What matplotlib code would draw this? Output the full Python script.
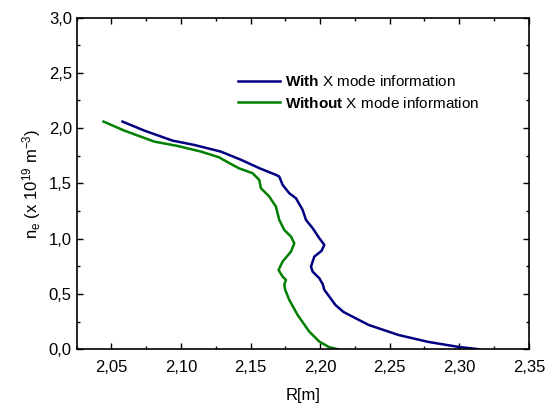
import numpy as np
import matplotlib
matplotlib.use('Agg')
import matplotlib.pyplot as plt
from matplotlib.ticker import MultipleLocator, FuncFormatter

plt.rcParams['font.family'] = ['Liberation Sans', 'DejaVu Sans']
plt.rcParams['mathtext.fontset'] = 'custom'
plt.rcParams['mathtext.rm'] = 'Liberation Sans'
plt.rcParams['mathtext.it'] = 'Liberation Sans:italic'
plt.rcParams['mathtext.bf'] = 'Liberation Sans:bold'

# "With X mode information" profile
r_with = [2.0579, 2.0735, 2.0938, 2.1094, 2.1285, 2.1432, 2.1562, 2.1682, 2.1706,
          2.1730, 2.1778, 2.1826, 2.1874, 2.1898, 2.1946, 2.1994, 2.2030, 2.2010,
          2.1958, 2.1934, 2.1946, 2.1994, 2.2018, 2.2030, 2.2066, 2.2110, 2.2168,
          2.2348, 2.2563, 2.2779, 2.2995, 2.3142]
ne_with = [2.059, 1.978, 1.887, 1.848, 1.788, 1.713, 1.638, 1.577, 1.562,
           1.487, 1.411, 1.366, 1.260, 1.170, 1.095, 1.004, 0.944, 0.890,
           0.838, 0.747, 0.702, 0.642, 0.590, 0.537, 0.476, 0.400, 0.337,
           0.220, 0.129, 0.066, 0.021, 0.0]

# "Without X mode information" profile
r_without = [2.0443, 2.0591, 2.0807, 2.0974, 2.1142, 2.1271, 2.1358, 2.1416, 2.1514,
             2.1562, 2.1574, 2.1634, 2.1682, 2.1706, 2.1742, 2.1790, 2.1814, 2.1790,
             2.1730, 2.1701, 2.1730, 2.1754, 2.1742, 2.1749, 2.1778, 2.1838, 2.1922,
             2.1994, 2.2066, 2.2130]
ne_without = [2.059, 1.978, 1.878, 1.839, 1.788, 1.737, 1.676, 1.637, 1.592,
              1.532, 1.457, 1.381, 1.290, 1.170, 1.079, 1.019, 0.959, 0.883,
              0.793, 0.717, 0.657, 0.627, 0.582, 0.537, 0.446, 0.310, 0.159,
              0.069, 0.018, 0.0]

fig = plt.figure(figsize=(5.48, 4.08), dpi=100)
ax = fig.add_axes([0.140, 0.144, 0.825, 0.813])

ax.plot(r_with, ne_with, color='#000080', lw=1.8, solid_joinstyle='round',
        label=r'$\mathbf{With}$ X mode information')
ax.plot(r_without, ne_without, color='#008000', lw=1.8, solid_joinstyle='round',
        label=r'$\mathbf{Without}$ X mode information')

ax.set_xlim(2.025, 2.35)
ax.set_ylim(0, 3.0)
ax.xaxis.set_major_locator(MultipleLocator(0.05))
ax.xaxis.set_minor_locator(MultipleLocator(0.025))
ax.yaxis.set_major_locator(MultipleLocator(0.5))
ax.yaxis.set_minor_locator(MultipleLocator(0.25))
ax.xaxis.set_major_formatter(FuncFormatter(lambda v, p: f'{v:.2f}'.replace('.', ',')))
ax.yaxis.set_major_formatter(FuncFormatter(lambda v, p: f'{v:.1f}'.replace('.', ',')))
ax.tick_params(which='both', direction='in', top=True, right=True, labelsize=12)
ax.tick_params(which='major', length=4.5, width=1)
ax.tick_params(which='minor', length=2.5, width=1)
ax.tick_params(axis='x', which='major', pad=8)
for s in ax.spines.values():
    s.set_linewidth(1.2)

ax.set_xlabel('R[m]', fontsize=12, labelpad=9)
ax.set_ylabel(r'n$_\mathrm{e}$ (x 10$^{19}$ m$^{-3}$)', fontsize=12, labelpad=4)

ax.legend(loc='upper left', bbox_to_anchor=(0.357, 0.83), frameon=False,
          fontsize=11, borderpad=0, borderaxespad=0, handlelength=2.75,
          handletextpad=0.35, labelspacing=0.45)

fig.savefig('out.png', dpi=100)
